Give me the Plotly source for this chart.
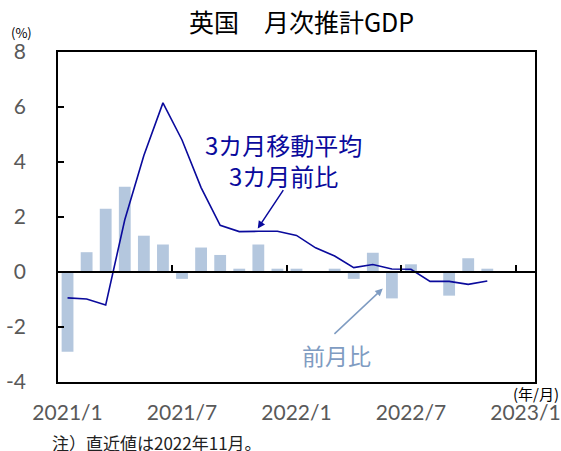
import plotly.graph_objects as go

# ---- data ----
months = ["2021/1", "2021/2", "2021/3", "2021/4", "2021/5", "2021/6", "2021/7", "2021/8",
          "2021/9", "2021/10", "2021/11", "2021/12", "2022/1", "2022/2", "2022/3", "2022/4",
          "2022/5", "2022/6", "2022/7", "2022/8", "2022/9", "2022/10", "2022/11"]
mom = [-2.9, 0.72, 2.3, 3.1, 1.32, 1.0, -0.25, 0.89, 0.62, 0.12, 1.0, 0.12,
       0.12, 0.0, 0.12, -0.25, 0.7, -0.96, 0.28, 0.0, -0.86, 0.5, 0.12]
ma3 = [-0.94, -0.98, -1.2, 1.9, 4.24, 6.15, 4.8, 3.07, 1.7, 1.47, 1.48, 1.48,
       1.33, 0.88, 0.58, 0.16, 0.27, 0.11, 0.1, -0.34, -0.34, -0.45, -0.33]
tick_labels = ["2021/1", "2021/7", "2022/1", "2022/7", "2023/1"]
tick_index = [0, 6, 12, 18, 24]
y_ticks = [-4, -2, 0, 2, 4, 6, 8]
y_tick_labels = ["-4", "-2", "0", "2", "4", "6", "8"]

idx = list(range(len(months)))

BAR_COLOR = "#b4c7de"
LINE_COLOR = "#0a0a9c"
LIGHT_TEXT = "#7f9cc2"
CJK = "Noto Sans CJK JP"
NUM = "Lato"

fig = go.Figure()
fig.add_trace(go.Bar(x=idx, y=mom, width=0.62, marker=dict(color=BAR_COLOR, line=dict(width=0)),
                     hovertext=months, name="前月比", xaxis="x"))
fig.add_trace(go.Scatter(x=idx, y=ma3, mode="lines", line=dict(color=LINE_COLOR, width=1.6),
                         hovertext=months, name="3カ月移動平均", xaxis="x2"))

fig.update_layout(
    width=561, height=451,
    margin=dict(l=58, r=26, t=52, b=69, autoexpand=False),
    paper_bgcolor="white", plot_bgcolor="white",
    showlegend=False,
    title=dict(text="英国　月次推計GDP", x=0.5375, y=1 - 23.5 / 451, xanchor="center", yanchor="middle",
               font=dict(family=CJK, size=25, color="#000000")),
    xaxis=dict(range=[-0.5, 24.5], tickvals=tick_index, ticktext=tick_labels, ticks="",
               showline=True, linecolor="#000000", linewidth=1.5, mirror=True,
               showgrid=False, zeroline=False, ticklabelstandoff=11, automargin=False,
               tickfont=dict(family=NUM, size=21, color="#595959")),
    xaxis2=dict(range=[-0.5, 24.5], overlaying="x", anchor="free", position=4 / 12, side="top",
                tickvals=[5.5, 11.5, 17.5, 23.5], ticks="outside", ticklen=6, tickwidth=1.5,
                tickcolor="#000000", showticklabels=False, showline=True, linecolor="#000000",
                linewidth=1.5, showgrid=False, zeroline=False, automargin=False),
    yaxis=dict(range=[-4, 8], tickvals=y_ticks, ticktext=y_tick_labels, ticks="inside", ticklen=6,
               tickwidth=1.5, tickcolor="#000000", showline=True, linecolor="#000000", linewidth=1.5,
               mirror=True, showgrid=False, zeroline=False, ticklabelstandoff=26, automargin=False,
               tickfont=dict(family=NUM, size=21, color="#595959")),
    bargap=0.38,
)

C = dict(xanchor="center", yanchor="middle", showarrow=False)
annotations = [
    dict(text="3カ月移動平均<br>3カ月前比", x=11.3, y=4.08, xref="x", yref="y",
         font=dict(family=CJK, size=24, color=LINE_COLOR), align="center", **C),
    dict(text="", x=9.97, y=1.58, ax=11.36, ay=3.03, xref="x", yref="y", axref="x", ayref="y",
         showarrow=True, arrowhead=2, arrowsize=1, arrowwidth=1.5, arrowcolor=LINE_COLOR),
    dict(text="前月比", x=14.12, y=-3.03, xref="x", yref="y",
         font=dict(family=CJK, size=23, color=LIGHT_TEXT), **C),
    dict(text="", x=16.52, y=-0.6, ax=13.91, ay=-2.3, xref="x", yref="y", axref="x", ayref="y",
         showarrow=True, arrowhead=2, arrowsize=1, arrowwidth=1.5, arrowcolor=LIGHT_TEXT),
    dict(text="(%)", x=-0.0755, y=1.0576, xref="paper", yref="paper",
         font=dict(family=CJK, size=13, color="#000000"), **C),
    dict(text="(年/月)", x=1.002, y=-0.036, xref="paper", yref="paper",
         font=dict(family=CJK, size=15, color="#000000"), **C),
    dict(text="注）直近値は2022年11月。", x=0.2065, y=-0.182, xref="paper", yref="paper",
         font=dict(family=CJK, size=17, color="#222222"), **C),
]
fig.update_layout(annotations=annotations)

fig.write_html("out.html",
               config={"displayModeBar": False},
               post_script="document.documentElement.style.margin='0';"
                           "document.body.style.margin='0';"
                           "document.body.style.overflow='hidden';")
